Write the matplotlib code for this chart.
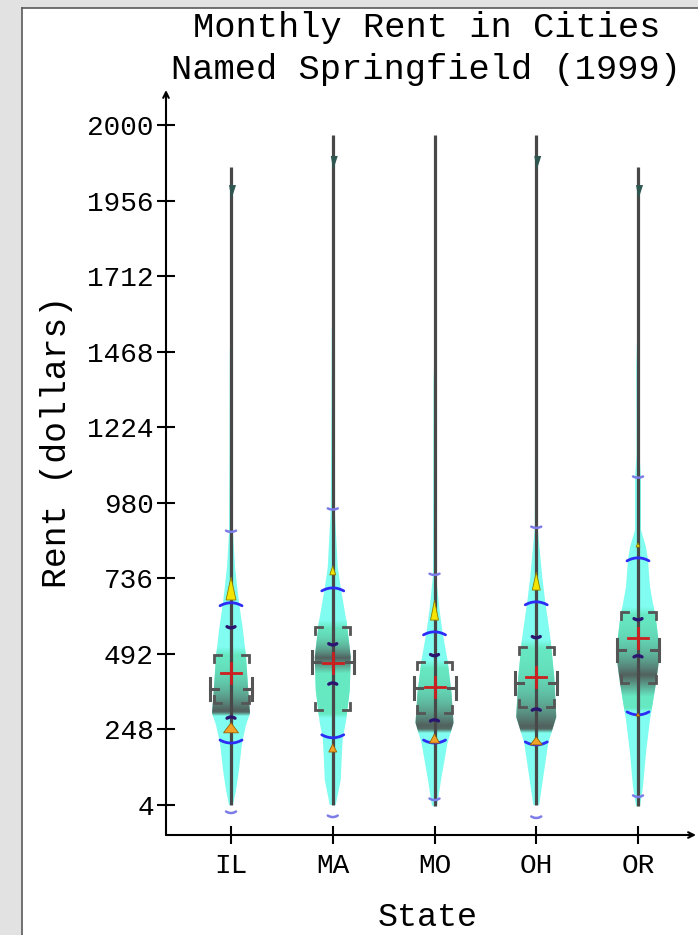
import numpy as np
import matplotlib
matplotlib.use('Agg')
import matplotlib.pyplot as plt
from matplotlib.patches import Polygon, Rectangle
from matplotlib.lines import Line2D

W, H, DPI = 698, 935, 100
FONT = ['Liberation Mono', 'DejaVu Sans Mono']

# ---------------- data ----------------
states = ['IL', 'MA', 'MO', 'OH', 'OR']
y_tick_labels = ['4', '248', '492', '736', '980', '1224', '1468', '1712', '1956', '2000']
y_tick_start, y_tick_step = 4, 244

whisker_low = [4, 4, 0, 4, 0]
whisker_high = [2063, 2167, 2167, 2167, 2063]
max_marker = [2006, 2100, np.nan, 2100, 2006]
box_top = [489, 579, 466, 515, 628]
box_bottom = [334, 311, 301, 321, 398]
medians = [379, 466, 382, 398, 505]
means = [431, 463, 385, 418, 544]
p90 = [657, 705, 563, 660, 802]
p10 = [204, 221, 204, 198, 295]
navy_hi = [576, 521, 486, 544, 602]
navy_lo = [288, 398, 279, 314, 486]
faint_hi = [886, 958, 747, 899, 1061]
faint_lo = [-22, -35, 20, -38, 30]
yellow_base = [666, 747, 601, 698, 837]
orange_base = [237, 175, 204, 198, 291]

# violin outlines: rent values and half widths (pixels)
dens_vals = [
    [4, 52, 117, 204, 262, 301, 343, 385, 482, 569, 657, 714, 773, 882, 1150, 1473, 1550],
    [4, 85, 159, 221, 269, 375, 482, 592, 705, 773, 957, 1312, 1538, 1600],
    [0, 10, 94, 204, 269, 366, 472, 563, 634, 747, 1150, 1376, 1450],
    [4, 94, 204, 288, 417, 547, 660, 740, 898, 1247, 1473, 1550],
    [0, 62, 172, 279, 398, 495, 602, 708, 795, 837, 892, 1060, 1134, 1418, 1505, 1560],
]
dens_width = [
    [2, 5, 8, 11, 15, 19, 18, 17, 15, 12, 8, 6, 4, 2, 1.5, 1.2, 0],
    [3, 8, 9, 10, 13, 17, 18, 14, 8, 5, 2, 1.3, 1, 0],
    [2, 3, 7, 13, 19, 17, 13, 8, 5, 1.5, 1.2, 1, 0],
    [3, 7, 12, 20, 18, 14, 9, 6, 1.5, 1.2, 1, 0],
    [2, 5, 8, 12, 18, 22, 18, 12, 10, 8, 3, 3, 1.5, 1.8, 1, 0],
]
# shaded density core
core_top = [514, 601, 472, 537, 643]
core_dark = [311, 479, 262, 259, 424]
core_bottom = [292, 285, 237, 237, 304]
core_fade = [200, 50, 200, 200, 70]

# ---------------- style ----------------
yellow_size = [(5, 23), (3, 9), (4, 20), (4, 18), (2, 4)]
orange_size = [(7.5, 10), (4, 8), (5, 9), (6, 8), (2, 3)]
CYAN = np.array([0.50, 0.99, 0.94])
AQUA = np.array([0.40, 0.91, 0.76])
DARK = np.array([0.32, 0.38, 0.37])

fig = plt.figure(figsize=(W / DPI, H / DPI), dpi=DPI, facecolor='#e2e2e2')
fig.patches.append(Rectangle((22 / W, -0.02), 1.2, 1 - 8 / H + 0.02, transform=fig.transFigure,
                             facecolor='white', edgecolor='none', zorder=-5))
fig.lines.append(Line2D([22 / W, 22 / W], [0, 1 - 8 / H], transform=fig.transFigure,
                        color='#5a5a5a', lw=1.2, zorder=-4))
fig.lines.append(Line2D([22 / W, 1], [1 - 8 / H, 1 - 8 / H], transform=fig.transFigure,
                        color='#5a5a5a', lw=1.2, zorder=-4))
fig.patches.append(Rectangle((688 / W, -0.01), 0.05, (935 - 842) / H + 0.01,
                             transform=fig.transFigure, facecolor='white', edgecolor='none',
                             zorder=10))

ax_l, ax_r, ax_t, ax_b = 166, 696, 90, 835
ax = fig.add_axes([ax_l / W, (H - ax_b) / H, (ax_r - ax_l) / W, (ax_b - ax_t) / H])
ax.set_zorder(2)
ax.set_facecolor('none')
XL = (-0.639, 4.570)
YL = (-93, 2313)
sx = (XL[1] - XL[0]) / (ax_r - ax_l)
sy = (YL[1] - YL[0]) / (ax_b - ax_t)


def arc(x0, v0, hw, bend, color, lw, z=6):
    xs = np.linspace(-hw, hw, 15)
    ys = bend * (xs / hw) ** 2
    ax.plot(x0 + xs * sx, v0 + ys * sy, color=color, lw=lw, solid_capstyle='round', zorder=z)


for i, st in enumerate(states):
    x0 = i
    v = np.array(dens_vals[i], float)
    w = np.array(dens_width[i], float) * sx
    poly = Polygon(np.column_stack([np.concatenate([x0 - w, (x0 + w)[::-1]]),
                                    np.concatenate([v, v[::-1]])]),
                   closed=True, facecolor=CYAN, edgecolor='none', zorder=1)
    ax.add_patch(poly)

    gt, gb, d, sb = core_top[i], core_bottom[i], core_dark[i], core_fade[i]
    vv = np.linspace(gb, gt, 300)
    a = np.clip((gt - vv) / (8 * sy), 0, 1) * np.clip((vv - gb) / (4 * sy), 0, 1)
    t = np.where(vv >= d, np.clip((gt - vv) / (gt - d), 0, 1) ** 2.5,
                 np.clip(1 - (d - vv) / sb, 0, 1))
    base = CYAN * (1 - a)[:, None] + AQUA * a[:, None]
    col = base * (1 - t * a)[:, None] + DARK * (t * a)[:, None]
    img = np.repeat(col[:, None, :], 2, axis=1)
    im = ax.imshow(img, extent=[x0 - 0.3, x0 + 0.3, gb, gt], origin='lower', aspect='auto',
                   interpolation='bilinear', zorder=2)
    im.set_clip_path(poly)

    # whisker line
    ax.plot([x0, x0], [whisker_low[i], whisker_high[i]], color='#484848', lw=2.3,
            solid_capstyle='butt', zorder=3)
    # max marker (down triangle)
    if not np.isnan(max_marker[i]):
        m = max_marker[i]
        ax.add_patch(Polygon([(x0 - 2 * sx, m), (x0 + 5 * sx, m), (x0 + 0.5 * sx, m - 14 * sy)],
                             closed=True, facecolor='#2f5752', edgecolor='none', zorder=4))

    # box corners
    bw, arm = 17.5, 7
    gcol = '#555555'
    for vb, sgn in ((box_top[i], -1), (box_bottom[i], 1)):
        for side in (-1, 1):
            xs = [x0 + side * (bw - arm) * sx, x0 + side * bw * sx, x0 + side * bw * sx]
            ys = [vb, vb, vb + sgn * arm * sy]
            ax.plot(xs, ys, color=gcol, lw=2.0, solid_joinstyle='miter', zorder=5)
    # median side marks
    for side in (-1, 1):
        ax.plot([x0 + side * 21 * sx] * 2, [medians[i] - 11 * sy, medians[i] + 11 * sy],
                color=gcol, lw=2.2, zorder=5)
        ax.plot([x0 + side * 21 * sx, x0 + side * 13 * sx], [medians[i]] * 2,
                color=gcol, lw=2.2, zorder=5)

    # percentile arcs
    arc(x0, p90[i], 11, -3, '#2c2cf5', 2.0)
    arc(x0, p10[i], 11, 3, '#2c2cf5', 2.0)
    arc(x0, navy_hi[i], 4, 1.2, '#2a1670', 2.4)
    arc(x0, navy_lo[i], 4, -1.2, '#2a1670', 2.4)
    arc(x0, faint_hi[i], 5, 1.2, '#7c7ce8', 1.8)
    arc(x0, faint_lo[i], 5, 1.5, '#7c7ce8', 1.8)

    # triangles
    hw_, h_ = yellow_size[i]
    yb = yellow_base[i]
    ax.add_patch(Polygon([(x0 - hw_ * sx, yb), (x0 + hw_ * sx, yb), (x0, yb + h_ * sy)],
                         closed=True, facecolor='#f4e400', edgecolor='#8c7c00', lw=0.6, zorder=6))
    hw_, h_ = orange_size[i]
    ob = orange_base[i]
    ax.add_patch(Polygon([(x0 - hw_ * sx, ob), (x0 + hw_ * sx, ob), (x0, ob + h_ * sy)],
                         closed=True, facecolor='#f2a227', edgecolor='#9a6200', lw=0.6, zorder=6))

    # mean
    ax.plot([x0 - 10 * sx, x0 + 10 * sx], [means[i]] * 2, color='#cc1f1f', lw=2.0, zorder=7)
    ax.plot([x0, x0], [means[i] - 10 * sy, means[i] + 10 * sy], color='#cc1f1f', lw=2.0, zorder=7)

ax.set_xlim(*XL)
ax.set_ylim(*YL)
for s in ax.spines.values():
    s.set_visible(False)
ax.annotate('', xy=(0, 1), xytext=(0, 0), xycoords='axes fraction',
            arrowprops=dict(arrowstyle='->', lw=1.5, color='black', shrinkA=0, shrinkB=0,
                            mutation_scale=10))
ax.annotate('', xy=(1, 0), xytext=(0, 0), xycoords='axes fraction',
            arrowprops=dict(arrowstyle='->', lw=1.5, color='black', shrinkA=0, shrinkB=0,
                            mutation_scale=10))

yt = [y_tick_start + y_tick_step * k for k in range(len(y_tick_labels))]
ax.set_yticks(yt)
ax.set_yticklabels(y_tick_labels, family=FONT, fontsize=20)
ax.set_xticks(range(len(states)))
ax.set_xticklabels(states, family=FONT, fontsize=20)
ax.tick_params(axis='both', direction='inout', length=13.5, width=1.5, colors='black')
ax.tick_params(axis='y', pad=2)
ax.tick_params(axis='x', pad=6)

fig.text(427 / W, 1 - 27 / H, 'Monthly Rent in Cities', ha='center', va='center',
         fontsize=25.5, family=FONT)
fig.text(426 / W, 1 - 70 / H, 'Named Springfield (1999)', ha='center', va='center',
         fontsize=25.5, family=FONT)
fig.text(57 / W, 1 - 442 / H, 'Rent (dollars)', rotation=90, ha='center', va='center',
         fontsize=25, family=FONT)
fig.text(428 / W, 1 - 918 / H, 'State', ha='center', va='center', fontsize=24, family=FONT)

fig.savefig('out.png', dpi=DPI, facecolor=fig.get_facecolor())
